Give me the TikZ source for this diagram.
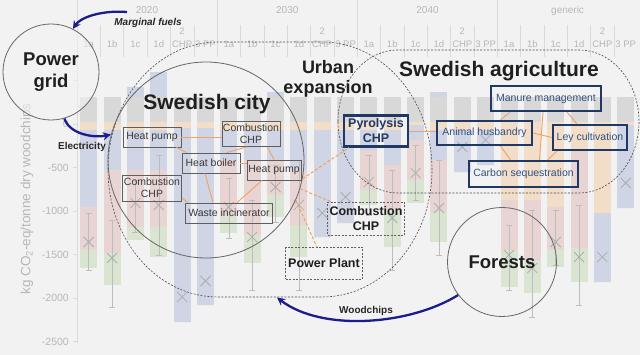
\documentclass[tikz,border=0pt]{standalone}
\usepackage{fontspec}
\setmainfont{Liberation Sans}
\usetikzlibrary{arrows.meta}
\definecolor{bgc}{HTML}{F2F2F2}
\definecolor{bgray}{HTML}{D8D8D8}
\definecolor{borange}{HTML}{F1DDC8}
\definecolor{bblue}{HTML}{CFD5E4}
\definecolor{bred}{HTML}{E9D4D4}
\definecolor{bgreen}{HTML}{D9E4D1}
\definecolor{axisc}{HTML}{DADADA}
\definecolor{labc}{HTML}{B7B7B7}
\definecolor{markc}{HTML}{ADADAD}
\definecolor{navy}{HTML}{1C1C8C}
\definecolor{linkc}{HTML}{F0A262}
\definecolor{agriline}{HTML}{1F3864}
\definecolor{agritext}{HTML}{34507E}
\definecolor{cityline}{HTML}{5E5E5E}
\definecolor{citytext}{HTML}{3A3A3A}
\definecolor{hubline}{HTML}{666666}
\begin{document}
\begin{tikzpicture}[x=1pt,y=-1pt,
  bigtext/.style={font=\bfseries\fontsize{21}{24}\selectfont, text=black!88, inner sep=0pt},
  midtext/.style={font=\bfseries\fontsize{18.5}{22}\selectfont, text=black!88, align=center, inner sep=0pt},
  hub/.style={circle, draw=hubline, line width=0.8pt, inner sep=0pt},
  citybox/.style={draw=cityline, line width=0.8pt, text=citytext, font=\fontsize{10.5}{12}\selectfont, align=center, inner sep=0pt},
  agribox/.style={draw=agriline, line width=2.2pt, text=agritext, font=\fontsize{10.5}{12}\selectfont, align=center, inner sep=0pt},
  dashbox/.style={draw=cityline, line width=0.7pt, dash pattern=on 2pt off 1.5pt, text=black!88, font=\bfseries\fontsize{12.5}{15}\selectfont, align=center, inner sep=0pt},
  flow/.style={draw=navy, line width=2.3pt, -{Stealth[length=8pt, width=8pt]}},
  flowlabel/.style={font=\bfseries\fontsize{10}{12}\selectfont, text=black!85, inner sep=0pt},
  link/.style={draw=linkc, line width=0.9pt},
  dlink/.style={draw=linkc, line width=1pt, dash pattern=on 3pt off 2pt},
  region/.style={draw=black!70, line width=0.6pt, dash pattern=on 2pt off 1.5pt},
  axislab/.style={text=labc, font=\fontsize{10.5}{12}\selectfont, inner sep=0pt},
  collab/.style={text=labc, font=\fontsize{9.5}{11}\selectfont, inner sep=0pt}]
\useasboundingbox (0,0) rectangle (640,355);
\fill[bgc] (0,0) rectangle (640,355);
% header separators
\foreach \k in {1,...,23} {
  \pgfmathsetmacro\xx{77+23.35*\k}
  \draw[axisc, line width=0.5pt] (\xx,25) -- (\xx,57);
}
\foreach \k in {6,12,18} {
  \pgfmathsetmacro\xx{77+23.35*\k}
  \draw[axisc, line width=0.5pt] (\xx,0) -- (\xx,25);
}
\foreach \yl/\xc [count=\k] in {2020/147, 2030/287.3, 2040/427.5, generic/567.6}
  \node[collab, font=\fontsize{10}{12}\selectfont] (yr\k) at (\xc,10.5) {\yl};
\foreach \gg in {0,...,3} {
  \foreach \lab [count=\j from 0] in {1a,1b,1c,1d,CHP,3 PP} {
    \pgfmathsetmacro\cx{88.7+23.35*(6*\gg+\j)}
    \node[collab] (cl\gg\j) at (\cx,44) {\lab};
  }
  \pgfmathsetmacro\cx{88.7+23.35*(6*\gg+4)}
  \node[collab] (two\gg) at (\cx,31) {2};
}
% bars
\foreach \vt/\vo/\vb/\vr/\vg/\vm/\ea/\eb [count=\i from 0] in {
 97/130/207/250/268/242/213/270, 97/130/170/253/285/258/220/307,
 87/130/170/227/240/203/180/232, 72/130/170/227/257/205/155/255,
 97/128/322/322/322/297/0/0, 97/128/305/305/305/281/0/0,
 97/130/160/215/233/207/178/238, 97/130/160/235/263/237/200/290,
 92/130/160/195/217/187/165/222, 97/130/170/225/257/205/160/290,
 97/130/237/237/237/213/0/0, 97/130/223/223/223/197/0/0,
 97/130/150/190/205/182/155/215, 97/130/165/210/247/218/170/270,
 97/125/140/180/203/173/145/200, 92/130/160/212/242/208/160/255,
 97/130/172/172/172/147/0/0, 97/130/165/165/165/140/0/0,
 97/200/200/250/287/255/225/290, 97/200/200/260/293/268/210/317,
 97/207/207/250/267/242/210/265, 97/150/150/248/282/257/205/305,
 97/213/282/282/282/257/0/0, 97/125/208/208/208/183/0/0} {
  \pgfmathsetmacro\cx{88.7+23.35*\i}
  \fill[bblue] (\cx-8.5,\vt) rectangle (\cx+8.5,122);
  \fill[bgray] (\cx-8.5,97) rectangle (\cx+8.5,122);
  \fill[borange] (\cx-8.5,122) rectangle (\cx+8.5,\vo);
  \fill[bblue] (\cx-8.5,\vo) rectangle (\cx+8.5,\vb);
  \fill[bred] (\cx-8.5,\vb) rectangle (\cx+8.5,\vr);
  \fill[bgreen] (\cx-8.5,\vr) rectangle (\cx+8.5,\vg);
  \ifnum\ea>0
    \draw[markc!80, line width=0.5pt] (\cx,\ea) -- (\cx,\eb) (\cx-3,\ea) -- (\cx+3,\ea) (\cx-3,\eb) -- (\cx+3,\eb);
  \fi
  \draw[markc, line width=0.8pt] (\cx-5,\vm-5) -- (\cx+5,\vm+5) (\cx-5,\vm+5) -- (\cx+5,\vm-5);
}
% axis
\draw[axisc, line width=0.6pt] (77,0) -- (77,343);
\draw[axisc, line width=0.6pt] (73,80.5) -- (77,80.5);
\foreach \v/\yy [count=\k] in {0/124, -500/167.5, -1000/211, -1500/254.5, -2000/298, -2500/341.5} {
  \draw[axisc, line width=0.6pt] (73,\yy) -- (77,\yy);
  \node[axislab, anchor=east] (tick\k) at (69,\yy) {\v};
}
\node[rotate=90, text=labc, font=\fontsize{13.5}{16}\selectfont, inner sep=0pt] (ytitle) at (27,199) {kg CO\textsubscript{2}-eq/tonne dry woodchips};
% regions
\draw[region] (108,169.5) .. controls (108,99.1) and (157.25,42) .. (218,42) -- (322,42) .. controls (382.75,42) and (432,99.1) .. (432,169.5) .. controls (432,239.9) and (382.75,297) .. (322,297) -- (218,297) .. controls (157.25,297) and (108,239.9) .. (108,169.5) -- cycle;
\draw[region] (338,121.5) .. controls (338,82) and (364.9,50) .. (398,50) -- (579,50) .. controls (612.1,50) and (639,82) .. (639,121.5) .. controls (639,161) and (612.1,193) .. (579,193) -- (398,193) .. controls (364.9,193) and (338,161) .. (338,121.5) -- cycle;
% hubs
\node[hub, minimum size=96pt, fill=bgc, fill opacity=0.6, text opacity=1, midtext] (grid) at (51,72) {Power\\grid};
\node[hub, minimum size=109pt, midtext] (forest) at (502,262) {Forests};
\node[hub, minimum size=196pt] (city) at (206,160) {};
\node[bigtext] (citylab) at (207,104) {Swedish city};
\node[midtext, font=\bfseries\fontsize{18}{20}\selectfont] (urbanlab) at (328,78.5) {Urban\\expansion};
\node[bigtext] (agrilab) at (499,71) {Swedish agriculture};
% city boxes
\node[citybox, minimum width=58pt, minimum height=20pt] (hp1) at (152,137) {Heat pump};
\node[citybox, minimum width=58pt, minimum height=25pt] (chp1) at (251,134) {Combustion\\CHP};
\node[citybox, minimum width=58pt, minimum height=20pt] (hb) at (211,163) {Heat boiler};
\node[citybox, minimum width=54pt, minimum height=20pt] (hp2) at (274,170) {Heat pump};
\node[citybox, minimum width=59pt, minimum height=26pt] (chp2) at (152,188) {Combustion\\CHP};
\node[citybox, minimum width=87pt, minimum height=20pt] (wi) at (229,213) {Waste incinerator};
% outside boxes
\node[dashbox, minimum width=77pt, minimum height=33pt] (chp3) at (366,219) {Combustion\\CHP};
\node[dashbox, minimum width=77pt, minimum height=32pt] (pp) at (324,263.5) {Power Plant};
% agriculture boxes
\node[agribox, text=agriline, font=\bfseries\fontsize{12.5}{15}\selectfont, minimum width=64pt, minimum height=31pt] (pyr) at (376,131) {Pyrolysis\\CHP};
\node[agribox, minimum width=110pt, minimum height=25pt] (man) at (546,98.5) {Manure management};
\node[agribox, minimum width=95pt, minimum height=24pt] (ani) at (484.5,133) {Animal husbandry};
\node[agribox, minimum width=74pt, minimum height=25pt] (ley) at (590,137.5) {Ley cultivation};
\node[agribox, minimum width=109pt, minimum height=26pt] (car) at (523.5,174) {Carbon sequestration};
% city links
\draw[link] (hp1.east) -- (hp1.east -| chp1.west);
\draw[link] ([xshift=-5pt]hp1.south east) -- ([xshift=5pt]hb.north west);
\draw[link] ([xshift=-14pt]hb.north east) -- ([xshift=-4pt]chp1.south);
\draw[link] (hb.east) -- (hb.east -| hp2.west);
\draw[link] ([xshift=-13pt]chp1.south east) -- (hp2.north);
\draw[link] ([xshift=-6pt]hb.south) -- ([xshift=-16pt]wi.north);
\draw[link] ([yshift=-10pt]chp2.east) -- ([xshift=3pt]wi.north west);
\draw[link] ([xshift=-12pt]hp2.south) -- ([xshift=8pt]wi.north);
\draw[dlink] (city.-11) -- ([xshift=6pt]pyr.south west);
\draw[dlink] (city.-17) -- ([xshift=5pt]chp3.north west);
\draw[dlink] (city.-24) -- ([xshift=-7pt]pp.north);
% agriculture links
\draw[link] (pyr.east) -- (pyr.east -| ani.west);
\draw[link] (ani.east) -- (ley.west);
\draw[link] ([xshift=-36pt]man.south) -- ([xshift=16pt]ani.north);
\draw[link] ([xshift=-3pt]man.south) -- ([xshift=16pt]car.north);
\draw[link] ([xshift=21pt]man.south) -- ([xshift=-13pt]ley.north);
\draw[link] ([xshift=16pt]ani.south) -- ([xshift=-13pt]car.north);
\draw[link] ([xshift=-33pt]ley.south) -- ([xshift=24pt]car.north);
% flows
\coordinate (mfstart) at (127,12);
\draw[flow] (mfstart) .. controls (100,10) and (80,18) .. (grid.63);
\node[flowlabel, font=\bfseries\itshape\fontsize{10}{12}\selectfont] (mflab) at (148,22.5) {Marginal fuels};
\draw[flow] (grid.-74) .. controls (70,135) and (95,138) .. (city.165);
\node[flowlabel] (ellab) at (82,147) {Electricity};
\coordinate (urbanbottom) at (277,297.5);
\draw[flow] (forest.217) .. controls (410,325) and (322,332) .. (urbanbottom);
\node[flowlabel] (wclab) at (366,311) {Woodchips};
\end{tikzpicture}
\end{document}
